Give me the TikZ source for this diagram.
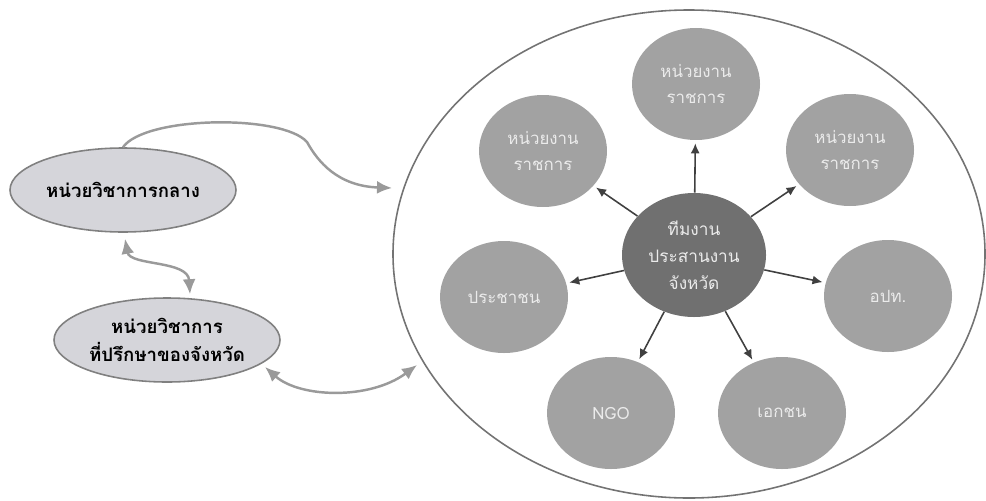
\documentclass[tikz,border=0pt]{standalone}
\usepackage{fontspec}
\newfontfamily\thaifont[Script=Thai]{Loma}
\usetikzlibrary{arrows,arrows.meta,shapes.geometric}

\definecolor{unitgray}{HTML}{A2A2A2}
\definecolor{hubgray}{HTML}{707070}
\definecolor{sidegray}{HTML}{D5D5DA}
\definecolor{linkgray}{HTML}{9A9A9A}

\tikzset{
  unit/.style={ellipse,fill=unitgray,text=white!92!black,minimum width=2.56cm,
    minimum height=2.24cm,inner sep=0pt,align=center,
    font=\thaifont\fontsize{9.6}{14.5}\selectfont},
  hub/.style={unit,fill=hubgray,minimum width=2.88cm,minimum height=2.48cm,
    font=\thaifont\fontsize{9.8}{15.5}\selectfont},
  side/.style={ellipse,draw=black!50,line width=0.9pt,fill=sidegray,
    minimum width=4.52cm,minimum height=1.68cm,inner sep=0pt,align=center,
    font=\thaifont\bfseries\fontsize{10.6}{16}\selectfont},
  spoke/.style={-{Latex[length=2mm,width=1.8mm]},draw=black!75,line width=0.9pt,
    shorten >=0.6mm},
  link/.style={draw=linkgray,line width=1.4pt,>={Latex[length=3mm,width=2.6mm]}},
}

\begin{document}
\begin{tikzpicture}[x=0.2mm,y=-0.2mm]
  \useasboundingbox (0,0) rectangle (986,500);

  % group of partners
  \draw[black!55,line width=0.9pt] (689,254) ellipse [x radius=5.92cm, y radius=4.88cm];

  \node[hub] (team) at (694,255) {ทีมงาน\\ประสานงาน\\จังหวัด};
  \node[unit] (govtop) at (696,84) {หน่วยงาน\\ราชการ};
  \node[unit] (govleft) at (543,151) {หน่วยงาน\\ราชการ};
  \node[unit] (govright) at (850,150) {หน่วยงาน\\ราชการ};
  \node[unit] (people) at (504,297) {ประชาชน};
  \node[unit] (local) at (888,296) {อปท.};
  \node[unit] (ngo) at (611,413) {NGO};
  \node[unit] (private) at (782,413) {เอกชน};

  \foreach \n in {govtop,govleft,govright,people,local,ngo,private}
    \draw[spoke] (team) -- (\n);

  % academic units
  \node[side] (central) at (123,190) {หน่วยวิชาการกลาง};
  \node[side] (advisor) at (167,340) {หน่วยวิชาการ\\ที่ปรึกษาของจังหวัด};

  \coordinate (intop) at (392,188);
  \coordinate (inbot) at (417,365);
  \coordinate (outbot) at (265,367);

  \draw[link,->] (central.north) .. controls (145,116) and (282,114) .. (307,142)
    .. controls (318,162) and (338,186) .. (intop);
  \draw[link,<->] ([xshift=0.4mm,yshift=-1.2mm]central.south)
    .. controls (130,266) and (188,260) .. ([xshift=4.6mm,yshift=0.6mm]advisor.north);
  \draw[link,<->] (outbot) .. controls (300,398) and (370,400) .. (inbot);
\end{tikzpicture}
\end{document}
